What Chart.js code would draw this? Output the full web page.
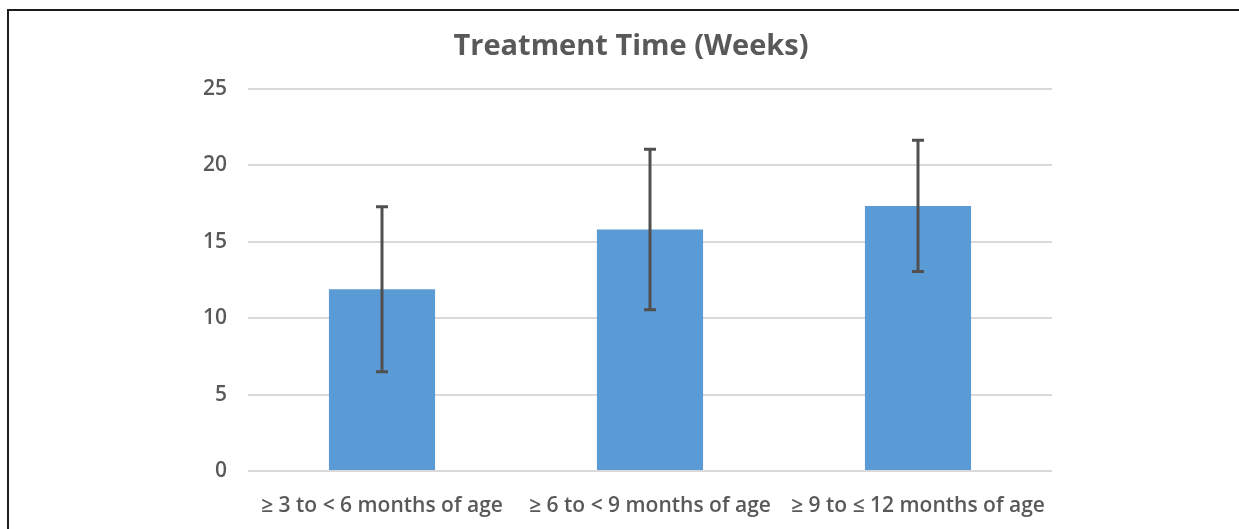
<!DOCTYPE html>
<html>
<head>
<meta charset="utf-8">
<script src="https://cdn.jsdelivr.net/npm/chart.js@4.4.1/dist/chart.umd.min.js"></script>
<style>
  html, body { margin: 0; padding: 0; background: #ffffff; overflow: hidden; }
  #wrap { position: relative; width: 1239px; height: 529px; overflow: hidden; background: #ffffff; }
  #c { position: absolute; left: 0; top: 0; }
  #frame { position: absolute; left: 7px; top: 9px; width: 1230px; height: 518px;
           border-top: 2px solid #1c1c1c; border-left: 2px solid #1c1c1c;
           border-right: none; border-bottom: none; pointer-events: none; }
</style>
</head>
<body>
<div id="wrap">
  <canvas id="c" width="1239" height="529"></canvas>
  <div id="frame"></div>
</div>
<script>
const categories = ["≥ 3 to < 6 months of age", "≥ 6 to < 9 months of age", "≥ 9 to ≤ 12 months of age"];
const meanWeeks = [11.9, 15.8, 17.35];
const sdWeeks = [5.4, 5.25, 4.3];
const yTicks = [0, 5, 10, 15, 20, 25];
const titleText = "Treatment Time (Weeks)";

const errorBars = {
  id: 'errorBars',
  afterDatasetsDraw(chart) {
    const ctx = chart.ctx;
    const meta = chart.getDatasetMeta(0);
    const y = chart.scales.y;
    ctx.save();
    ctx.strokeStyle = '#505050';
    ctx.lineWidth = 3;
    meta.data.forEach((bar, i) => {
      const x = bar.x;
      const top = y.getPixelForValue(meanWeeks[i] + sdWeeks[i]);
      const bot = y.getPixelForValue(meanWeeks[i] - sdWeeks[i]);
      ctx.beginPath();
      ctx.moveTo(x, top); ctx.lineTo(x, bot);
      ctx.moveTo(x - 6, top); ctx.lineTo(x + 6, top);
      ctx.moveTo(x - 6, bot); ctx.lineTo(x + 6, bot);
      ctx.stroke();
    });
    ctx.restore();
  }
};

new Chart(document.getElementById('c'), {
  type: 'bar',
  data: {
    labels: categories,
    datasets: [{
      data: meanWeeks,
      yAxisID: 'y',
      backgroundColor: '#5b9bd5',
      borderWidth: 0,
      categoryPercentage: 1.0,
      barPercentage: 0.396
    }]
  },
  options: {
    responsive: false,
    animation: false,
    devicePixelRatio: 1,
    layout: { padding: { left: 90, right: 67, top: 0, bottom: 0 } },
    plugins: {
      legend: { display: false },
      tooltip: { enabled: false },
      title: {
        display: true,
        text: titleText,
        color: '#595959',
        font: { family: 'Open Sans', size: 29, weight: '700', lineHeight: 1.2 },
        padding: { top: 29, bottom: 25.2 }
      }
    },
    scales: {
      x: {
        grid: { display: false, drawTicks: false },
        border: { display: false },
        ticks: {
          color: '#595959',
          padding: 22,
          maxRotation: 0,
          autoSkip: false,
          font: { family: 'Open Sans', size: 21, weight: '600' }
        },
        afterFit(scale) { scale.height = 58; }
      },
      y: {
        position: 'left',
        min: 0,
        max: 25,
        afterBuildTicks(scale) { scale.ticks = yTicks.map(v => ({ value: v })); },
        grid: { color: '#d9d9d9', lineWidth: 2, drawTicks: false },
        border: { display: false },
        ticks: {
          color: '#595959',
          padding: 21,
          font: { family: 'Open Sans', size: 21, weight: '600' }
        },
        afterFit(scale) { scale.width = 158; }
      },
      yRightSpace: {
        type: 'linear',
        position: 'right',
        min: 0,
        max: 25,
        grid: { display: false, drawTicks: false },
        border: { display: false },
        ticks: { display: false },
        afterFit(scale) { scale.width = 120; }
      }
    }
  },
  plugins: [errorBars]
});
</script>
</body>
</html>
